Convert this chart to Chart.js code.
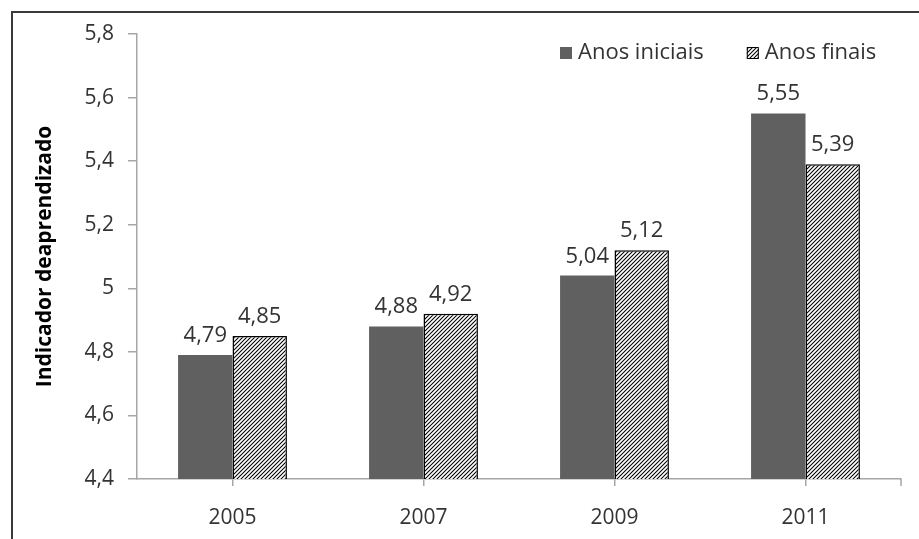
<!DOCTYPE html>
<html>
<head>
<meta charset="utf-8">
<script src="https://cdn.jsdelivr.net/npm/chart.js@4.4.0/dist/chart.umd.min.js"></script>
<style>
  html, body { margin: 0; padding: 0; background: #fff; }
  canvas { display: block; }
</style>
</head>
<body>
<canvas id="chart" width="919" height="539"></canvas>
<script>
/* === DATA === */
const years = ["2005", "2007", "2009", "2011"];
const anosIniciais = [4.79, 4.88, 5.04, 5.55];
const anosFinais = [4.85, 4.92, 5.12, 5.39];
const seriesNames = ["Anos iniciais", "Anos finais"];
const yTitle = "Indicador deaprendizado";
const yMin = 4.4, yMax = 5.8, yStep = 0.2;

const FONT = "'Open Sans', 'Noto Sans', sans-serif";
const TEXT = "#333333";
const AXIS = "#a6a6a6";
const GREY = "#606060";

// number with comma decimal, like the original ("5" stays "5")
const fmt = v => String(Number(v.toFixed(2))).replace(".", ",");

/* === HATCH PATTERN === */
function makeHatch() {
    const c = document.createElement("canvas");
    c.width = 4; c.height = 4;
    const g = c.getContext("2d");
    g.fillStyle = "#fff";
    g.fillRect(0, 0, 4, 4);
    g.strokeStyle = "#000";
    g.lineWidth = 1.05;
    g.beginPath();
    g.moveTo(-1, 5); g.lineTo(5, -1);
    g.moveTo(-1, 1); g.lineTo(1, -1);
    g.moveTo(3, 5); g.lineTo(5, 3);
    g.stroke();
    return g.createPattern(c, "repeat");
}
const hatch = makeHatch();

/* === PLUGINS === */
const framePlugin = {
    id: "frame",
    beforeDraw(chart) {
        const ctx = chart.ctx;
        ctx.save();
        ctx.strokeStyle = "#3a3a3a";
        ctx.lineWidth = 2;
        ctx.beginPath();
        ctx.moveTo(12, chart.height);
        ctx.lineTo(12, 12);
        ctx.lineTo(chart.width, 12);
        ctx.stroke();
        ctx.restore();
    },
    afterDraw(chart) {
        // small tick at the right end of the x axis
        const a = chart.chartArea, ctx = chart.ctx;
        ctx.save();
        ctx.strokeStyle = AXIS;
        ctx.lineWidth = 1.5;
        ctx.beginPath();
        ctx.moveTo(a.right, a.bottom);
        ctx.lineTo(a.right, a.bottom + 7);
        ctx.stroke();
        ctx.restore();
    }
};

const labelPlugin = {
    id: "barLabels",
    afterDatasetsDraw(chart) {
        const ctx = chart.ctx;
        ctx.save();
        ctx.font = "22px " + FONT;
        ctx.fillStyle = TEXT;
        ctx.textAlign = "center";
        ctx.textBaseline = "alphabetic";
        chart.data.datasets.forEach((ds, i) => {
            chart.getDatasetMeta(i).data.forEach((bar, j) => {
                ctx.fillText(fmt(ds.data[j]), bar.x, bar.y - 13);
            });
        });
        ctx.restore();
    }
};

const legendPlugin = {
    id: "insideLegend",
    afterDraw(chart) {
        const ctx = chart.ctx;
        const a = chart.chartArea;
        ctx.save();
        ctx.font = "22px " + FONT;
        ctx.textBaseline = "middle";
        let x = a.left + 423;
        const y = 53;
        chart.data.datasets.forEach((ds, i) => {
            ctx.fillStyle = ds.backgroundColor;
            ctx.fillRect(x, y - 6, 12, 12);
            if (ds.borderWidth) {
                ctx.strokeStyle = "#000";
                ctx.lineWidth = 1;
                ctx.strokeRect(x + 0.5, y - 5.5, 11, 11);
            }
            ctx.fillStyle = TEXT;
            ctx.fillText(ds.label, x + 18, y);
            x += 18 + ctx.measureText(ds.label).width + 43;
        });
        ctx.restore();
    }
};

/* === CHART === */
new Chart(document.getElementById("chart"), {
    type: "bar",
    data: {
        labels: years,
        datasets: [
            {
                label: seriesNames[0],
                data: anosIniciais,
                backgroundColor: GREY,
                borderWidth: 0,
            },
            {
                label: seriesNames[1],
                data: anosFinais,
                backgroundColor: hatch,
                borderColor: "#000",
                borderWidth: 1.5,
            },
        ],
    },
    options: {
        responsive: false,
        animation: false,
        layout: { padding: { left: 0, top: 34, right: 18, bottom: 0 } },
        datasets: { bar: { categoryPercentage: 0.57, barPercentage: 1.0 } },
        plugins: {
            legend: { display: false },
            tooltip: { enabled: false },
        },
        scales: {
            x: {
                grid: { display: true, drawOnChartArea: false, offset: false, tickLength: 7, color: AXIS, lineWidth: 1.5 },
                border: { color: AXIS, width: 1.5 },
                ticks: { color: TEXT, font: { family: FONT, size: 21 }, padding: 19 },
                afterFit: s => { s.height = 60; },
            },
            y: {
                min: yMin,
                max: yMax,
                ticks: {
                    stepSize: yStep,
                    color: TEXT,
                    font: { family: FONT, size: 21 },
                    padding: 14,
                    callback: v => fmt(v),
                },
                grid: { display: true, drawOnChartArea: false, tickLength: 9, color: AXIS, lineWidth: 1.5 },
                border: { color: AXIS, width: 1.5 },
                title: {
                    display: true,
                    text: yTitle,
                    color: "#000",
                    font: { family: FONT, size: 21, weight: "bold" },
                    padding: { top: 32, bottom: 0 },
                },
                afterFit: s => { s.width = 137; },
            },
        },
    },
    plugins: [framePlugin, labelPlugin, legendPlugin],
});
</script>
</body>
</html>
